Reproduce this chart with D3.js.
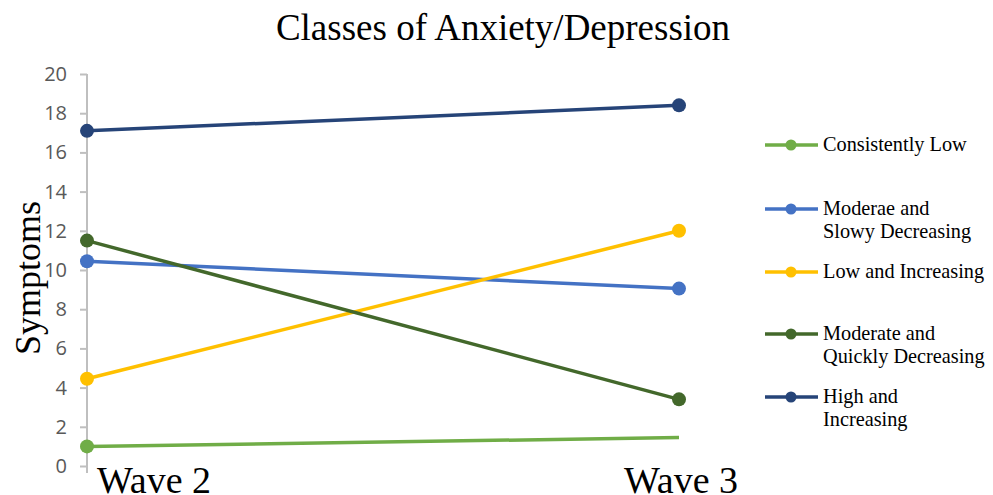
<!DOCTYPE html>
<html>
<head>
<meta charset="utf-8">
<script src="https://cdn.jsdelivr.net/npm/d3@7"></script>
<style>
  html, body { margin: 0; padding: 0; background: #fff; }
  svg { display: block; }
</style>
</head>
<body>
<svg id="chart" width="993" height="495"></svg>
<script>
// Waves on the x axis
const waves = ["Wave 2", "Wave 3"];

// Mean symptom score per class at each wave
const consistentlyLow = [1.0, 1.45];
const moderateSlowly = [10.45, 9.05];
const lowIncreasing = [4.45, 12.0];
const moderateQuickly = [11.5, 3.4];
const highIncreasing = [17.1, 18.4];

const seriesNames = [
  ["Consistently Low"],
  ["Moderae and", "Slowy Decreasing"],
  ["Low and Increasing"],
  ["Moderate and", "Quickly Decreasing"],
  ["High and", "Increasing"]
];
const seriesValues = [consistentlyLow, moderateSlowly, lowIncreasing, moderateQuickly, highIncreasing];
const seriesColors = ["#70AD47", "#4472C4", "#FFC000", "#43682B", "#264478"];
// markers drawn at each wave (the low class has no marker on its last point)
const seriesMarkers = [[true, false], [true, true], [true, true], [true, true], [true, true]];

const yTicks = [0, 2, 4, 6, 8, 10, 12, 14, 16, 18, 20];

const svg = d3.select("#chart");

const x = d3.scalePoint().domain(waves).range([87, 679]);
const y = d3.scaleLinear().domain([0, 20]).range([466, 74]);

// Title
svg.append("text")
  .attr("x", 503).attr("y", 40)
  .attr("text-anchor", "middle")
  .attr("font-family", "'Liberation Serif', 'Times New Roman', serif")
  .attr("font-size", 37)
  .attr("fill", "#000")
  .text("Classes of Anxiety/Depression");

// Y axis
const yAxis = d3.axisLeft(y).tickValues(yTicks).tickSize(7).tickPadding(13);
const yg = svg.append("g").attr("transform", "translate(87,0)").call(yAxis);
yg.select(".domain").attr("stroke", "#BFBFBF").attr("stroke-width", 2)
  .attr("d", `M0,${y(20)}V${y(0) + 7}`);
yg.selectAll(".tick line").attr("stroke", "#BFBFBF").attr("stroke-width", 2);
yg.selectAll(".tick text")
  .attr("fill", "#595959")
  .attr("font-family", "'Open Sans', 'Liberation Sans', Arial, sans-serif")
  .attr("font-size", 20);

// Y axis title
svg.append("text")
  .attr("transform", "translate(40,278) rotate(-90)")
  .attr("text-anchor", "middle")
  .attr("font-family", "'Liberation Serif', 'Times New Roman', serif")
  .attr("font-size", 36)
  .attr("fill", "#000")
  .text("Symptoms");

// X category labels
svg.selectAll(".wave-label").data(waves).enter().append("text")
  .attr("class", "wave-label")
  .attr("x", d => x(d) + (d === "Wave 2" ? 67 : 2))
  .attr("y", 493)
  .attr("text-anchor", "middle")
  .attr("font-family", "'Liberation Serif', 'Times New Roman', serif")
  .attr("font-size", 38)
  .attr("fill", "#000")
  .text(d => d);

// Lines and markers
const line = d3.line().x((d, i) => x(waves[i])).y(d => y(d));
seriesValues.forEach((vals, s) => {
  svg.append("path")
    .attr("d", line(vals))
    .attr("fill", "none")
    .attr("stroke", seriesColors[s])
    .attr("stroke-width", 3.5)
    .attr("stroke-linecap", "butt");
  vals.forEach((v, i) => {
    if (!seriesMarkers[s][i]) return;
    svg.append("circle")
      .attr("cx", x(waves[i])).attr("cy", y(v))
      .attr("r", 7)
      .attr("fill", seriesColors[s]);
  });
});

// Legend
const legendRows = [145, 209, 272, 334, 397];
seriesNames.forEach((lines, s) => {
  const g = svg.append("g").attr("transform", `translate(0,${legendRows[s]})`);
  g.append("line").attr("x1", 765).attr("x2", 818).attr("y1", 0).attr("y2", 0)
    .attr("stroke", seriesColors[s]).attr("stroke-width", 3.5);
  g.append("circle").attr("cx", 791).attr("cy", 0).attr("r", 5.5).attr("fill", seriesColors[s]);
  lines.forEach((t, k) => {
    g.append("text")
      .attr("x", 823).attr("y", 6 + k * 23)
      .attr("font-family", "'Liberation Serif', 'Times New Roman', serif")
      .attr("font-size", 20.3)
      .attr("fill", "#000")
      .text(t);
  });
});
</script>
</body>
</html>
